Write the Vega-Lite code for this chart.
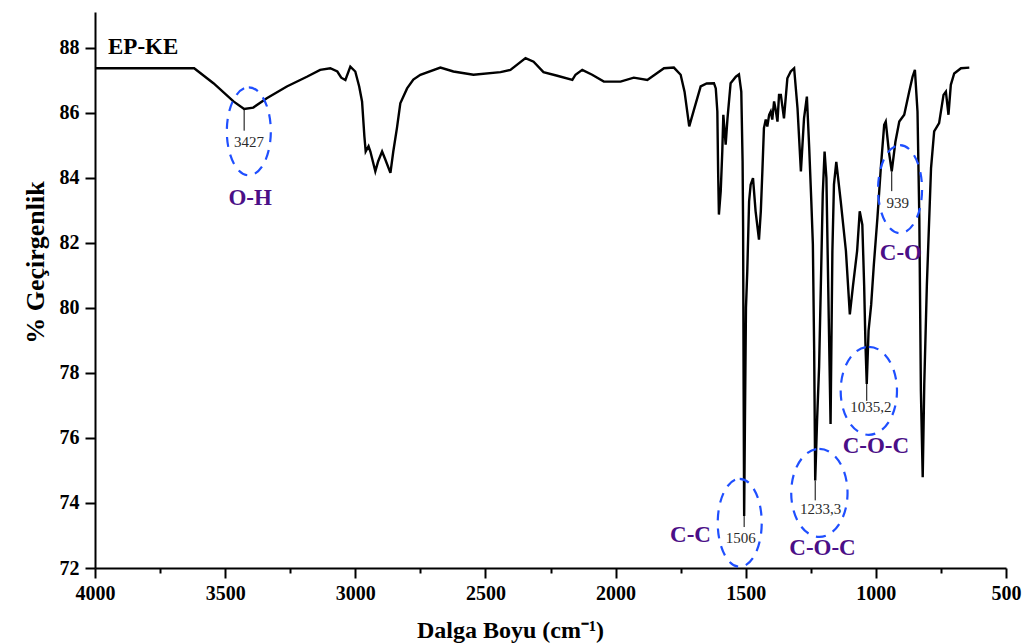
{
  "$schema": "https://vega.github.io/schema/vega-lite/v6.json",
  "width": 911,
  "height": 556,
  "autosize": {"type": "none"},
  "padding": {"left": 95, "top": 12, "right": 23, "bottom": 76},
  "background": "white",
  "config": {"view": {"stroke": null}, "font": "Liberation Serif"},
  "datasets": {
    "spectrum": [
      {"wn": 4000, "t": 87.37}, {"wn": 3850, "t": 87.37}, {"wn": 3700, "t": 87.37}, {"wn": 3619, "t": 87.37},
      {"wn": 3545, "t": 86.91}, {"wn": 3468, "t": 86.35}, {"wn": 3427, "t": 86.12}, {"wn": 3392, "t": 86.16},
      {"wn": 3340, "t": 86.45}, {"wn": 3263, "t": 86.81}, {"wn": 3186, "t": 87.11}, {"wn": 3135, "t": 87.32},
      {"wn": 3096, "t": 87.37}, {"wn": 3069, "t": 87.27}, {"wn": 3054, "t": 87.08}, {"wn": 3038, "t": 87.01},
      {"wn": 3019, "t": 87.42}, {"wn": 3000, "t": 87.27}, {"wn": 2985, "t": 86.81}, {"wn": 2974, "t": 86.35},
      {"wn": 2965, "t": 85.27}, {"wn": 2960, "t": 84.81}, {"wn": 2949, "t": 84.97}, {"wn": 2942, "t": 84.81},
      {"wn": 2923, "t": 84.2}, {"wn": 2912, "t": 84.51}, {"wn": 2897, "t": 84.81}, {"wn": 2885, "t": 84.57},
      {"wn": 2865, "t": 84.15}, {"wn": 2854, "t": 84.81}, {"wn": 2840, "t": 85.53}, {"wn": 2827, "t": 86.29},
      {"wn": 2801, "t": 86.75}, {"wn": 2777, "t": 87.02}, {"wn": 2750, "t": 87.17}, {"wn": 2673, "t": 87.39},
      {"wn": 2623, "t": 87.27}, {"wn": 2546, "t": 87.17}, {"wn": 2442, "t": 87.25}, {"wn": 2404, "t": 87.32},
      {"wn": 2346, "t": 87.68}, {"wn": 2315, "t": 87.57}, {"wn": 2277, "t": 87.25}, {"wn": 2224, "t": 87.14},
      {"wn": 2166, "t": 87.01}, {"wn": 2154, "t": 87.17}, {"wn": 2128, "t": 87.32}, {"wn": 2090, "t": 87.17},
      {"wn": 2045, "t": 86.96}, {"wn": 1981, "t": 86.96}, {"wn": 1930, "t": 87.08}, {"wn": 1878, "t": 87.01},
      {"wn": 1814, "t": 87.37}, {"wn": 1776, "t": 87.39}, {"wn": 1750, "t": 87.17}, {"wn": 1735, "t": 86.65},
      {"wn": 1717, "t": 85.58}, {"wn": 1699, "t": 86.09}, {"wn": 1673, "t": 86.81}, {"wn": 1650, "t": 86.9},
      {"wn": 1622, "t": 86.91}, {"wn": 1615, "t": 86.75}, {"wn": 1609, "t": 86.04}, {"wn": 1606, "t": 84.2},
      {"wn": 1603, "t": 82.87}, {"wn": 1596, "t": 83.59}, {"wn": 1590, "t": 84.81}, {"wn": 1586, "t": 85.94},
      {"wn": 1581, "t": 85.43}, {"wn": 1577, "t": 85.02}, {"wn": 1570, "t": 85.83}, {"wn": 1558, "t": 86.91},
      {"wn": 1538, "t": 87.11}, {"wn": 1526, "t": 87.18}, {"wn": 1517, "t": 86.65}, {"wn": 1512, "t": 84.51},
      {"wn": 1510, "t": 82.46}, {"wn": 1508, "t": 77.5}, {"wn": 1506, "t": 73.6}, {"wn": 1503, "t": 76.5},
      {"wn": 1499, "t": 80.0}, {"wn": 1494, "t": 81.13}, {"wn": 1487, "t": 83.28}, {"wn": 1481, "t": 83.79},
      {"wn": 1472, "t": 83.99}, {"wn": 1462, "t": 82.97}, {"wn": 1449, "t": 82.1}, {"wn": 1442, "t": 82.97},
      {"wn": 1436, "t": 84.2}, {"wn": 1430, "t": 85.53}, {"wn": 1423, "t": 85.79}, {"wn": 1417, "t": 85.58},
      {"wn": 1410, "t": 85.94}, {"wn": 1404, "t": 86.04}, {"wn": 1398, "t": 85.79}, {"wn": 1391, "t": 86.35},
      {"wn": 1385, "t": 86.1}, {"wn": 1378, "t": 85.73}, {"wn": 1372, "t": 86.55}, {"wn": 1365, "t": 86.55},
      {"wn": 1353, "t": 85.83}, {"wn": 1340, "t": 87.06}, {"wn": 1327, "t": 87.27}, {"wn": 1314, "t": 87.37},
      {"wn": 1301, "t": 86.14}, {"wn": 1288, "t": 84.2}, {"wn": 1276, "t": 85.83}, {"wn": 1265, "t": 86.5},
      {"wn": 1256, "t": 84.91}, {"wn": 1248, "t": 83.28}, {"wn": 1242, "t": 81.95}, {"wn": 1237, "t": 78.68},
      {"wn": 1233, "t": 74.69}, {"wn": 1226, "t": 76.5}, {"wn": 1218, "t": 78.2}, {"wn": 1210, "t": 81.2},
      {"wn": 1204, "t": 83.5}, {"wn": 1197, "t": 84.81}, {"wn": 1190, "t": 84.0}, {"wn": 1181, "t": 79.7},
      {"wn": 1174, "t": 76.43}, {"wn": 1167, "t": 81.75}, {"wn": 1161, "t": 83.79}, {"wn": 1152, "t": 84.49},
      {"wn": 1135, "t": 83.28}, {"wn": 1115, "t": 81.75}, {"wn": 1100, "t": 79.8}, {"wn": 1088, "t": 80.67},
      {"wn": 1072, "t": 81.75}, {"wn": 1062, "t": 82.97}, {"wn": 1052, "t": 82.56}, {"wn": 1045, "t": 80.7},
      {"wn": 1040, "t": 78.9}, {"wn": 1035, "t": 77.66}, {"wn": 1028, "t": 79.3}, {"wn": 1018, "t": 80.1},
      {"wn": 1008, "t": 81.3}, {"wn": 994, "t": 82.77}, {"wn": 981, "t": 84.3}, {"wn": 968, "t": 85.63},
      {"wn": 962, "t": 85.73}, {"wn": 950, "t": 84.81}, {"wn": 939, "t": 84.2}, {"wn": 925, "t": 85.1},
      {"wn": 910, "t": 85.73}, {"wn": 891, "t": 85.94}, {"wn": 872, "t": 86.65}, {"wn": 859, "t": 87.11},
      {"wn": 850, "t": 87.32}, {"wn": 840, "t": 86.04}, {"wn": 833, "t": 82.77}, {"wn": 827, "t": 77.45},
      {"wn": 820, "t": 74.79}, {"wn": 814, "t": 77.66}, {"wn": 804, "t": 80.72}, {"wn": 788, "t": 84.3},
      {"wn": 776, "t": 85.43}, {"wn": 757, "t": 85.68}, {"wn": 740, "t": 86.55}, {"wn": 731, "t": 86.65},
      {"wn": 721, "t": 85.94}, {"wn": 712, "t": 86.86}, {"wn": 699, "t": 87.21}, {"wn": 673, "t": 87.37},
      {"wn": 641, "t": 87.39}
    ],
    "peaks": [
      {"label": "3427", "wn": 3427, "t": 86.12, "tEnd": 85.45, "wnLabel": 3408, "tLabel": 85.11},
      {"label": "939", "wn": 939, "t": 84.2, "tEnd": 83.59, "wnLabel": 916, "tLabel": 83.24},
      {"label": "1506", "wn": 1506, "t": 73.6, "tEnd": 73.26, "wnLabel": 1519, "tLabel": 72.93},
      {"label": "1233,3", "wn": 1233, "t": 74.69, "tEnd": 74.08, "wnLabel": 1212, "tLabel": 73.82},
      {"label": "1035,2", "wn": 1035, "t": 77.66, "tEnd": 77.14, "wnLabel": 1019, "tLabel": 76.96}
    ],
    "rings": [
      {"peak": "3427", "wn": 3409, "t": 85.43},
      {"peak": "939", "wn": 907, "t": 83.65},
      {"peak": "1506", "wn": 1523, "t": 73.39},
      {"peak": "1233,3", "wn": 1217, "t": 74.31},
      {"peak": "1035,2", "wn": 1027, "t": 77.45}
    ],
    "groups": [
      {"label": "O-H", "wn": 3404, "t": 83.37},
      {"label": "C-O", "wn": 904, "t": 81.69},
      {"label": "C-C", "wn": 1712, "t": 73.0},
      {"label": "C-O-C", "wn": 1205, "t": 72.6},
      {"label": "C-O-C", "wn": 1000, "t": 75.76}
    ],
    "sample": [
      {"label": "EP-KE", "wn": 3950, "t": 88.03}
    ]
  },
  "layer": [
    {
      "data": {"name": "spectrum"},
      "mark": {"type": "line", "color": "black", "strokeWidth": 2.4, "strokeJoin": "miter"},
      "encoding": {
        "x": {
          "field": "wn", "type": "quantitative",
          "scale": {"domain": [500, 4000], "reverse": true, "nice": false, "zero": false},
          "axis": {
            "title": "Dalga Boyu (cm⁻¹)",
            "values": [4000, 3750, 3500, 3250, 3000, 2750, 2500, 2250, 2000, 1750, 1500, 1250, 1000, 750, 500],
            "format": "d",
            "labelExpr": "datum.value % 500 === 0 ? datum.label : ''",
            "tickSize": {"condition": {"test": "datum.value % 500 !== 0", "value": 5}, "value": 10},
            "tickWidth": 2, "tickColor": "black",
            "domainColor": "black", "domainWidth": 2,
            "labelFont": "Liberation Serif", "labelFontWeight": "bold", "labelFontSize": 20, "labelColor": "black",
            "labelPadding": 5, "labelFlush": false, "labelOverlap": false,
            "titleFont": "Liberation Serif", "titleFontWeight": "bold", "titleFontSize": 24, "titleColor": "black",
            "titleX": 415, "titleY": 69, "titleBaseline": "alphabetic", "titleAlign": "center",
            "grid": false
          }
        },
        "y": {
          "field": "t", "type": "quantitative",
          "scale": {"domain": [72, 89.1], "nice": false, "zero": false},
          "axis": {
            "title": "% Geçirgenlik",
            "values": [72, 73, 74, 75, 76, 77, 78, 79, 80, 81, 82, 83, 84, 85, 86, 87, 88, 89],
            "format": "d",
            "labelExpr": "datum.value % 2 === 0 ? datum.label : ''",
            "tickSize": {"condition": {"test": "datum.value % 2 !== 0", "value": 5}, "value": 10},
            "tickWidth": 2, "tickColor": "black",
            "domainColor": "black", "domainWidth": 2,
            "labelFont": "Liberation Serif", "labelFontWeight": "bold", "labelFontSize": 20, "labelColor": "black",
            "labelPadding": 6, "labelFlush": false, "labelOverlap": false,
            "titleFont": "Liberation Serif", "titleFontWeight": "bold", "titleFontSize": 26, "titleColor": "black",
            "titleX": -52, "titleY": 250, "titleAngle": -90, "titleBaseline": "alphabetic", "titleAlign": "center",
            "grid": false
          }
        }
      }
    },
    {
      "data": {"name": "peaks"},
      "mark": {"type": "rule", "color": "black", "strokeWidth": 1},
      "encoding": {
        "x": {"field": "wn", "type": "quantitative"},
        "y": {"field": "t", "type": "quantitative"},
        "y2": {"field": "tEnd"}
      }
    },
    {
      "data": {"name": "peaks"},
      "mark": {"type": "text", "font": "Liberation Serif", "fontSize": 15, "color": "#2b2b2b", "align": "center", "baseline": "middle"},
      "encoding": {
        "x": {"field": "wnLabel", "type": "quantitative"},
        "y": {"field": "tLabel", "type": "quantitative"},
        "text": {"field": "label"}
      }
    },
    {
      "data": {"name": "rings"},
      "transform": [{"filter": {"field": "peak", "oneOf": ["3427", "939", "1506"]}}],
      "mark": {
        "type": "point", "filled": false, "size": 7744,
        "shape": "M0,-1C0.2761,-1,0.5,-0.5523,0.5,0C0.5,0.5523,0.2761,1,0,1C-0.2761,1,-0.5,0.5523,-0.5,0C-0.5,-0.5523,-0.2761,-1,0,-1Z",
        "stroke": "#1f4fff", "strokeWidth": 2.2, "strokeDash": [10, 8], "opacity": 1
      },
      "encoding": {
        "x": {"field": "wn", "type": "quantitative"},
        "y": {"field": "t", "type": "quantitative"}
      }
    },
    {
      "data": {"name": "rings"},
      "transform": [{"filter": {"field": "peak", "oneOf": ["1233,3", "1035,2"]}}],
      "mark": {
        "type": "point", "filled": false, "size": 7744,
        "shape": "M0,-1C0.3535,-1,0.64,-0.5523,0.64,0C0.64,0.5523,0.3535,1,0,1C-0.3535,1,-0.64,0.5523,-0.64,0C-0.64,-0.5523,-0.3535,-1,0,-1Z",
        "stroke": "#1f4fff", "strokeWidth": 2.2, "strokeDash": [10, 8], "opacity": 1
      },
      "encoding": {
        "x": {"field": "wn", "type": "quantitative"},
        "y": {"field": "t", "type": "quantitative"}
      }
    },
    {
      "data": {"name": "groups"},
      "mark": {"type": "text", "font": "Liberation Serif", "fontWeight": "bold", "fontSize": 23, "color": "#4b0f87", "align": "center", "baseline": "middle"},
      "encoding": {
        "x": {"field": "wn", "type": "quantitative"},
        "y": {"field": "t", "type": "quantitative"},
        "text": {"field": "label"}
      }
    },
    {
      "data": {"name": "sample"},
      "mark": {"type": "text", "font": "Liberation Serif", "fontWeight": "bold", "fontSize": 23, "color": "black", "align": "left", "baseline": "middle"},
      "encoding": {
        "x": {"field": "wn", "type": "quantitative"},
        "y": {"field": "t", "type": "quantitative"},
        "text": {"field": "label"}
      }
    }
  ]
}
